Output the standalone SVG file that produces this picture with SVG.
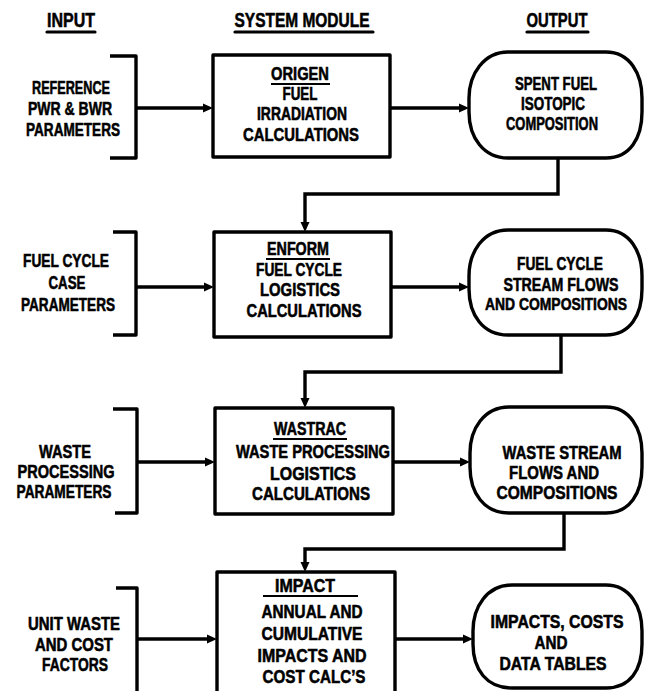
<svg xmlns="http://www.w3.org/2000/svg" width="645" height="691" viewBox="0 0 645 691">
  <style>
    .t { font-family: "Liberation Sans", Arial, sans-serif; font-weight: bold; font-size: 17.5px; text-anchor: middle; fill: #000; stroke: #000; stroke-width: 0.55; stroke-linejoin: round; }
    .h { font-size: 20px; }
    .sm { font-size: 16px; }
    .shape { fill: none; stroke: #000; stroke-width: 3.4; stroke-linejoin: round; }
    .ul { stroke: #000; stroke-width: 3.2; stroke-linecap: round; }
    .ul2 { stroke: #000; stroke-width: 2; }
    .wire { fill: none; stroke: #000; stroke-width: 3.4; stroke-linejoin: miter; }
  </style>
  <defs>
    <marker id="ah" viewBox="0 0 10 10" refX="0" refY="5" markerWidth="10" markerHeight="10" markerUnits="userSpaceOnUse" orient="auto">
      <path d="M0,0.5 L10,5 L0,9.5 z" fill="#000"/>
    </marker>
  </defs>
  <rect width="645" height="691" fill="#fff"/>

  <!-- column headings -->
  <g id="headings">
    <text class="t h" x="71" y="27" textLength="48" lengthAdjust="spacingAndGlyphs">INPUT</text>
    <line class="ul" x1="47" y1="32" x2="95" y2="32"/>
    <text class="t h" x="302" y="27" textLength="135" lengthAdjust="spacingAndGlyphs">SYSTEM MODULE</text>
    <line class="ul" x1="235" y1="32" x2="373" y2="32"/>
    <text class="t h" x="557" y="27" textLength="61" lengthAdjust="spacingAndGlyphs">OUTPUT</text>
    <line class="ul" x1="527" y1="32" x2="588" y2="32"/>
  </g>

  <!-- inputs -->
  <g id="in-reference">
    <path class="shape" d="M110,56 H136 V158 H110"/>
    <text class="t" x="71" y="94" textLength="78" lengthAdjust="spacingAndGlyphs">REFERENCE</text>
    <text class="t" x="70" y="115" textLength="84" lengthAdjust="spacingAndGlyphs">PWR &amp; BWR</text>
    <text class="t" x="73" y="136" textLength="94" lengthAdjust="spacingAndGlyphs">PARAMETERS</text>
  </g>
  <g id="in-fuel-cycle">
    <path class="shape" d="M113,232 H136 V335 H113"/>
    <text class="t" x="66" y="267" textLength="86" lengthAdjust="spacingAndGlyphs">FUEL CYCLE</text>
    <text class="t" x="67" y="289" textLength="37" lengthAdjust="spacingAndGlyphs">CASE</text>
    <text class="t" x="68" y="311" textLength="94" lengthAdjust="spacingAndGlyphs">PARAMETERS</text>
  </g>
  <g id="in-waste">
    <path class="shape" d="M113,409 H137 V513 H115"/>
    <text class="t" x="65" y="458" textLength="52" lengthAdjust="spacingAndGlyphs">WASTE</text>
    <text class="t" x="66" y="478" textLength="97" lengthAdjust="spacingAndGlyphs">PROCESSING</text>
    <text class="t" x="64" y="498" textLength="95" lengthAdjust="spacingAndGlyphs">PARAMETERS</text>
  </g>
  <g id="in-unit-waste">
    <path class="shape" d="M116,588 H137 V700"/>
    <text class="t" x="74" y="630" textLength="92" lengthAdjust="spacingAndGlyphs">UNIT WASTE</text>
    <text class="t" x="74" y="651" textLength="78" lengthAdjust="spacingAndGlyphs">AND COST</text>
    <text class="t" x="75" y="671" textLength="66" lengthAdjust="spacingAndGlyphs">FACTORS</text>
  </g>

  <!-- system modules -->
  <g id="mod-origen">
    <rect class="shape" x="213" y="55" width="177" height="102"/>
    <text class="t" x="300" y="80" textLength="58" lengthAdjust="spacingAndGlyphs">ORIGEN</text>
    <line class="ul2" x1="271" y1="84" x2="330" y2="84"/>
    <text class="t" x="300" y="100" textLength="35" lengthAdjust="spacingAndGlyphs">FUEL</text>
    <text class="t" x="302" y="120" textLength="90" lengthAdjust="spacingAndGlyphs">IRRADIATION</text>
    <text class="t" x="301" y="141" textLength="116" lengthAdjust="spacingAndGlyphs">CALCULATIONS</text>
  </g>
  <g id="mod-enform">
    <rect class="shape" x="214" y="232" width="177" height="105"/>
    <text class="t" x="298" y="255" textLength="62" lengthAdjust="spacingAndGlyphs">ENFORM</text>
    <line class="ul2" x1="266" y1="259" x2="330" y2="259"/>
    <text class="t" x="299" y="276" textLength="86" lengthAdjust="spacingAndGlyphs">FUEL CYCLE</text>
    <text class="t" x="300" y="296" textLength="80" lengthAdjust="spacingAndGlyphs">LOGISTICS</text>
    <text class="t" x="304" y="317" textLength="115" lengthAdjust="spacingAndGlyphs">CALCULATIONS</text>
  </g>
  <g id="mod-wastrac">
    <rect class="shape" x="215" y="408" width="178" height="106"/>
    <text class="t" x="310" y="435" textLength="72" lengthAdjust="spacingAndGlyphs">WASTRAC</text>
    <line class="ul2" x1="273" y1="439" x2="347" y2="439"/>
    <text class="t" x="313" y="458" textLength="154" lengthAdjust="spacingAndGlyphs">WASTE PROCESSING</text>
    <text class="t" x="313" y="480" textLength="86" lengthAdjust="spacingAndGlyphs">LOGISTICS</text>
    <text class="t" x="311" y="500" textLength="118" lengthAdjust="spacingAndGlyphs">CALCULATIONS</text>
  </g>
  <g id="mod-impact">
    <rect class="shape" x="217" y="572" width="178" height="130"/>
    <text class="t" x="305" y="592" textLength="60" lengthAdjust="spacingAndGlyphs">IMPACT</text>
    <line class="ul2" x1="263" y1="596" x2="358" y2="596"/>
    <text class="t" x="312" y="618" textLength="101" lengthAdjust="spacingAndGlyphs">ANNUAL AND</text>
    <text class="t" x="312" y="640" textLength="101" lengthAdjust="spacingAndGlyphs">CUMULATIVE</text>
    <text class="t" x="312" y="662" textLength="109" lengthAdjust="spacingAndGlyphs">IMPACTS AND</text>
    <text class="t" x="314" y="683" textLength="103" lengthAdjust="spacingAndGlyphs">COST CALC’S</text>
  </g>

  <!-- outputs -->
  <g id="out-spent-fuel">
    <path class="shape" d="M508,52 H606 C630,52 642,74 642,98 V112 C642,138 630,158 606,158 H508 C484,158 469,138 469,112 V98 C469,74 484,52 508,52 Z"/>
    <text class="t" x="556" y="90" textLength="82" lengthAdjust="spacingAndGlyphs">SPENT FUEL</text>
    <text class="t" x="553" y="110" textLength="64" lengthAdjust="spacingAndGlyphs">ISOTOPIC</text>
    <text class="t" x="552" y="130" textLength="92" lengthAdjust="spacingAndGlyphs">COMPOSITION</text>
  </g>
  <g id="out-stream-flows">
    <path class="shape" d="M508,230 H606 C630,230 642,252 642,276 V289 C642,315 630,335 606,335 H508 C483,335 469,315 469,289 V276 C469,252 483,230 508,230 Z"/>
    <text class="t" x="560" y="270" textLength="86" lengthAdjust="spacingAndGlyphs">FUEL CYCLE</text>
    <text class="t" x="561" y="291" textLength="115" lengthAdjust="spacingAndGlyphs">STREAM FLOWS</text>
    <text class="t sm" x="556" y="310" textLength="142" lengthAdjust="spacingAndGlyphs">AND COMPOSITIONS</text>
  </g>
  <g id="out-waste-stream">
    <path class="shape" d="M509,407 H606 C630,407 642,429 642,453 V467 C642,493 630,513 606,513 H509 C484,513 470,493 470,467 V453 C470,429 484,407 509,407 Z"/>
    <text class="t" x="562" y="459" textLength="119" lengthAdjust="spacingAndGlyphs">WASTE STREAM</text>
    <text class="t" x="554" y="479" textLength="90" lengthAdjust="spacingAndGlyphs">FLOWS AND</text>
    <text class="t" x="557" y="499" textLength="121" lengthAdjust="spacingAndGlyphs">COMPOSITIONS</text>
  </g>
  <g id="out-impacts">
    <path class="shape" d="M512,585 H606 C630,585 642,607 642,631 V644 C642,670 630,688 606,688 H512 C487,688 473,670 473,644 V631 C473,607 487,585 512,585 Z"/>
    <text class="t" x="557" y="628" textLength="133" lengthAdjust="spacingAndGlyphs">IMPACTS, COSTS</text>
    <text class="t" x="551" y="649" textLength="33" lengthAdjust="spacingAndGlyphs">AND</text>
    <text class="t" x="553" y="670" textLength="107" lengthAdjust="spacingAndGlyphs">DATA TABLES</text>
  </g>

  <!-- connectors -->
  <g id="connectors">
    <path class="wire" d="M136,108 H203" marker-end="url(#ah)"/>
    <path class="wire" d="M390,108 H459" marker-end="url(#ah)"/>
    <path class="wire" d="M558,158 V194 H305 V222" marker-end="url(#ah)"/>

    <path class="wire" d="M136,287 H204" marker-end="url(#ah)"/>
    <path class="wire" d="M391,287 H459" marker-end="url(#ah)"/>
    <path class="wire" d="M561,335 V372 H305 V398" marker-end="url(#ah)"/>

    <path class="wire" d="M137,462 H205" marker-end="url(#ah)"/>
    <path class="wire" d="M393,462 H460" marker-end="url(#ah)"/>
    <path class="wire" d="M564,513 V549 H305 V562" marker-end="url(#ah)"/>

    <path class="wire" d="M137,639 H207" marker-end="url(#ah)"/>
    <path class="wire" d="M395,639 H463" marker-end="url(#ah)"/>
  </g>
</svg>
